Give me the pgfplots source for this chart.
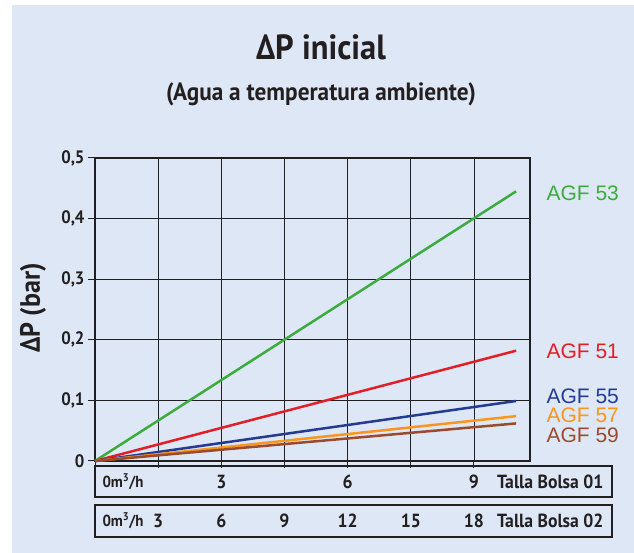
\documentclass[border=0pt]{standalone}
\usepackage{fontspec}
\setmainfont{PT Sans}[BoldFeatures={FakeStretch=0.93}]
\newfontfamily\arial{Liberation Sans}
\usepackage{pgfplots}
\pgfplotsset{compat=1.18}
\definecolor{bg}{RGB}{222,231,245}
\definecolor{cgreen}{RGB}{60,172,62}
\definecolor{cred}{RGB}{226,30,40}
\definecolor{cblue}{RGB}{35,60,145}
\definecolor{corange}{RGB}{248,150,30}
\definecolor{cbrown}{RGB}{155,75,45}
\definecolor{ink}{RGB}{35,31,32}
\begin{document}
\begin{tikzpicture}[x=1pt,y=1pt]
\fill[white] (0,0) rectangle (634,553);
\fill[bg] (12,0) rectangle (634,548);
\begin{axis}[at={(95pt,92pt)}, anchor=south west, scale only axis,
  width=435pt, height=303pt,
  xmin=0, xmax=10.33, ymin=0, ymax=0.5,
  xtick={0,1.5,3,4.5,6,7.5,9}, xticklabels={},
  ytick={0,0.1,0.2,0.3,0.4,0.5},
  yticklabels={0,{0,1},{0,2},{0,3},{0,4},{0,5}},
  yticklabel style={font=\bfseries\fontsize{18}{18}\selectfont, text=ink},
  xtick pos=bottom, ytick pos=left,
  tick align=outside, major tick length=7pt,
  tick style={ink, line width=1pt},
  grid=major, major grid style={ink, line width=0.9pt},
  axis line style={ink, line width=2.5pt},
  clip=false]
\addplot[cgreen, line width=2.5pt] coordinates {(0,0) (10,0.445)};
\addplot[cred, line width=2.5pt] coordinates {(0,0) (10,0.182)};
\addplot[cblue, line width=2.5pt] coordinates {(0,0) (10,0.099)};
\addplot[corange, line width=2.5pt] coordinates {(0,0) (10,0.074)};
\addplot[cbrown, line width=2.5pt] coordinates {(0,0) (10,0.062)};
\end{axis}
% titles
\node[text=ink, font=\bfseries\fontsize{35}{35}\selectfont] at (321,506) {ΔP inicial};
\node[text=ink, font=\bfseries\fontsize{25}{25}\selectfont] at (321,459) {(Agua a temperatura ambiente)};
\node[text=ink, rotate=90, font=\bfseries\fontsize{28}{28}\selectfont] at (33,245) {ΔP (bar)};
% line labels
\begin{scope}[font=\arial\fontsize{21}{21}\selectfont]
\node[anchor=west, text=cgreen] at (543,360) {AGF 53};
\node[anchor=west, text=cred] at (543,202) {AGF 51};
\node[anchor=west, text=cblue] at (543,157) {AGF 55};
\node[anchor=west, text=corange] at (543,138) {AGF 57};
\node[anchor=west, text=cbrown] at (543,118) {AGF 59};
\end{scope}
% flow boxes
\draw[ink, line width=2.5pt] (95,56) rectangle (612,87);
\draw[ink, line width=2.5pt] (95,16) rectangle (612,48);
\begin{scope}[text=ink]
\node[anchor=west, font=\bfseries\fontsize{16}{16}\selectfont] at (99,71.5) {0m\textsuperscript{3}/h};
\node[anchor=west, font=\bfseries\fontsize{16}{16}\selectfont] at (99,32) {0m\textsuperscript{3}/h};
\foreach \x/\l in {221.3/3, 347.6/6, 473.9/9}
  \node[font=\bfseries\fontsize{19}{19}\selectfont] at (\x,71.5) {\l};
\foreach \x/\l in {158.2/3, 221.3/6, 284.5/9, 347.6/12, 410.8/15, 473.9/18}
  \node[font=\bfseries\fontsize{19}{19}\selectfont] at (\x,32) {\l};
\node[anchor=east, font=\bfseries\fontsize{19}{19}\selectfont] at (607,71.5) {Talla Bolsa 01};
\node[anchor=east, font=\bfseries\fontsize{19}{19}\selectfont] at (607,32) {Talla Bolsa 02};
\end{scope}
\useasboundingbox (0,0) rectangle (634,553);
\end{tikzpicture}
\end{document}
